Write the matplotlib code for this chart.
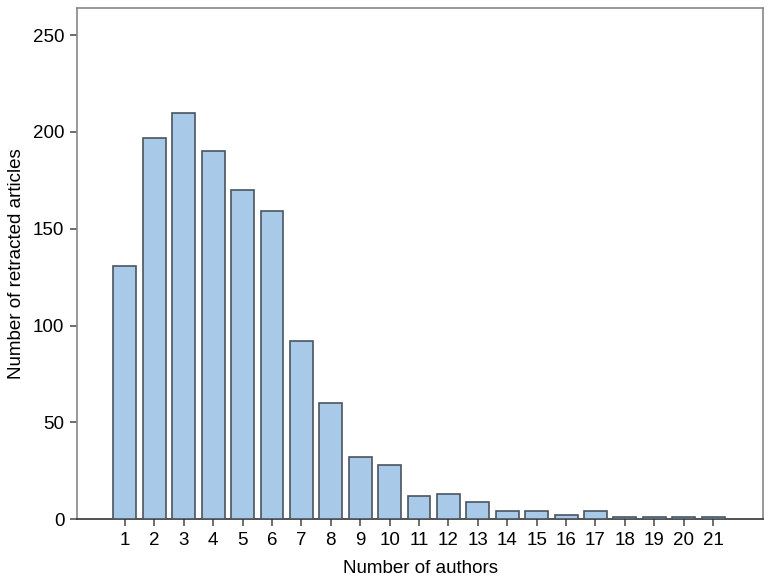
import matplotlib
matplotlib.use("Agg")
import matplotlib.pyplot as plt

authors = list(range(1, 22))
labels = [str(a) for a in authors]
counts = [131, 197, 210, 190, 170, 159, 92, 60, 32, 28, 12, 13, 9, 4, 4, 2, 4, 1, 1, 1, 1]

plt.rcParams['font.family'] = ['Liberation Sans', 'DejaVu Sans']

fig = plt.figure(figsize=(7.7, 5.78), dpi=100)
ax = fig.add_axes([0.1, 0.102, 0.891, 0.884])
ax.bar(authors, counts, width=0.78, color='#a9c9e8', edgecolor='#4a5560', linewidth=1.2, zorder=3)
ax.set_xlim(-0.63, 22.7)
ax.set_ylim(0, 264)
ax.set_xticks(authors)
ax.set_xticklabels(labels)
ax.set_yticks([0, 50, 100, 150, 200, 250])
for s in ax.spines.values():
    s.set_color('#888888')
    s.set_linewidth(1.2)
ax.spines['bottom'].set_color('#333333')
ax.tick_params(direction='out', length=5, width=1.2, color='#555555', labelsize=13.5, pad=4)
ax.set_xlabel('Number of authors', fontsize=13.5, labelpad=8)
ax.set_ylabel('Number of retracted articles', fontsize=13.5, labelpad=6)
fig.savefig('out.png', dpi=100)
